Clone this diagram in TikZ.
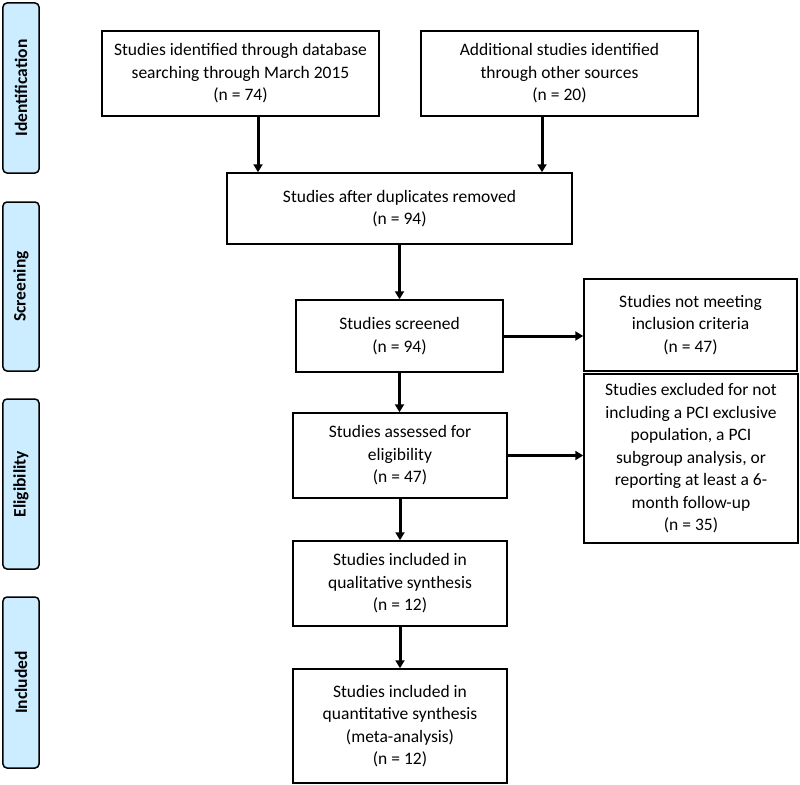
\documentclass[tikz,border=0pt]{standalone}
\usepackage{fontspec}
\setmainfont{Carlito}
\usetikzlibrary{arrows.meta}
\definecolor{stagefill}{RGB}{204,236,255}

\begin{document}
\begin{tikzpicture}[x=1bp, y=-1bp,
	box/.style={draw=black, line width=1.5bp, align=center, inner sep=2bp,
		font=\fontsize{17.5bp}{22.5bp}\selectfont},
	stage/.style={draw=black, line width=1.5bp, fill=stagefill, rounded corners=4bp,
		rotate=90, minimum height=36bp, inner sep=0pt,
		font=\fontsize{17.5bp}{22.5bp}\selectfont\bfseries},
	arr/.style={line width=3bp, -{Triangle[length=8bp,width=9bp]}}]
	\useasboundingbox (0,0) rectangle (800,785);
	% stages on the left
	\node[stage, minimum width=170bp] (ident) at (21,88) {Identification};
	\node[stage, minimum width=169bp] (screen) at (21,286.5) {Screening};
	\node[stage, minimum width=170bp] (elig) at (21,484) {Eligibility};
	\node[stage, minimum width=171bp] (incl) at (21,682.5) {Included};
	% flow boxes
	\node[box, minimum width=277bp, minimum height=85bp] (db) at (240.5,73.5)
		{Studies identified through database\\searching through March 2015\\(n = 74)};
	\node[box, minimum width=277bp, minimum height=85bp] (other) at (559.5,73.5)
		{Additional studies identified\\through other sources\\(n = 20)};
	\node[box, minimum width=345bp, minimum height=71bp] (dup) at (399.5,208.5)
		{Studies after duplicates removed\\(n = 94)};
	\node[box, minimum width=207bp, minimum height=72bp] (screened) at (399.5,336)
		{Studies screened\\(n = 94)};
	\node[box, minimum width=213bp, minimum height=92bp] (notmeet) at (690.5,325)
		{Studies not meeting\\inclusion criteria\\(n = 47)};
	\node[box, minimum width=214bp, minimum height=85bp] (assessed) at (400,455.5)
		{Studies assessed for\\eligibility\\(n = 47)};
	\node[box, minimum width=214bp, minimum height=169bp] (excluded) at (691,458.5)
		{Studies excluded for not\\including a PCI exclusive\\population, a PCI\\subgroup analysis, or\\reporting at least a 6-\\month follow-up\\(n = 35)};
	\node[box, minimum width=214bp, minimum height=85bp] (qual) at (400,583.5)
		{Studies included in\\qualitative synthesis\\(n = 12)};
	\node[box, minimum width=214bp, minimum height=114bp] (quant) at (400,726)
		{Studies included in\\quantitative synthesis\\(meta-analysis)\\(n = 12)};
	% connectors
	\draw[arr] ([xshift=17.5bp]db.south) -- ([xshift=17.5bp]db.south |- dup.north);
	\draw[arr] ([xshift=-17.5bp]other.south) -- ([xshift=-17.5bp]other.south |- dup.north);
	\draw[arr] (dup.south) -- (dup.south |- screened.north);
	\draw[arr] (screened.east) -- (screened.east -| notmeet.west);
	\draw[arr] (screened.south) -- (screened.south |- assessed.north);
	\draw[arr] (assessed.east) -- (assessed.east -| excluded.west);
	\draw[arr] (assessed.south) -- (assessed.south |- qual.north);
	\draw[arr] (qual.south) -- (qual.south |- quant.north);
\end{tikzpicture}
\end{document}
